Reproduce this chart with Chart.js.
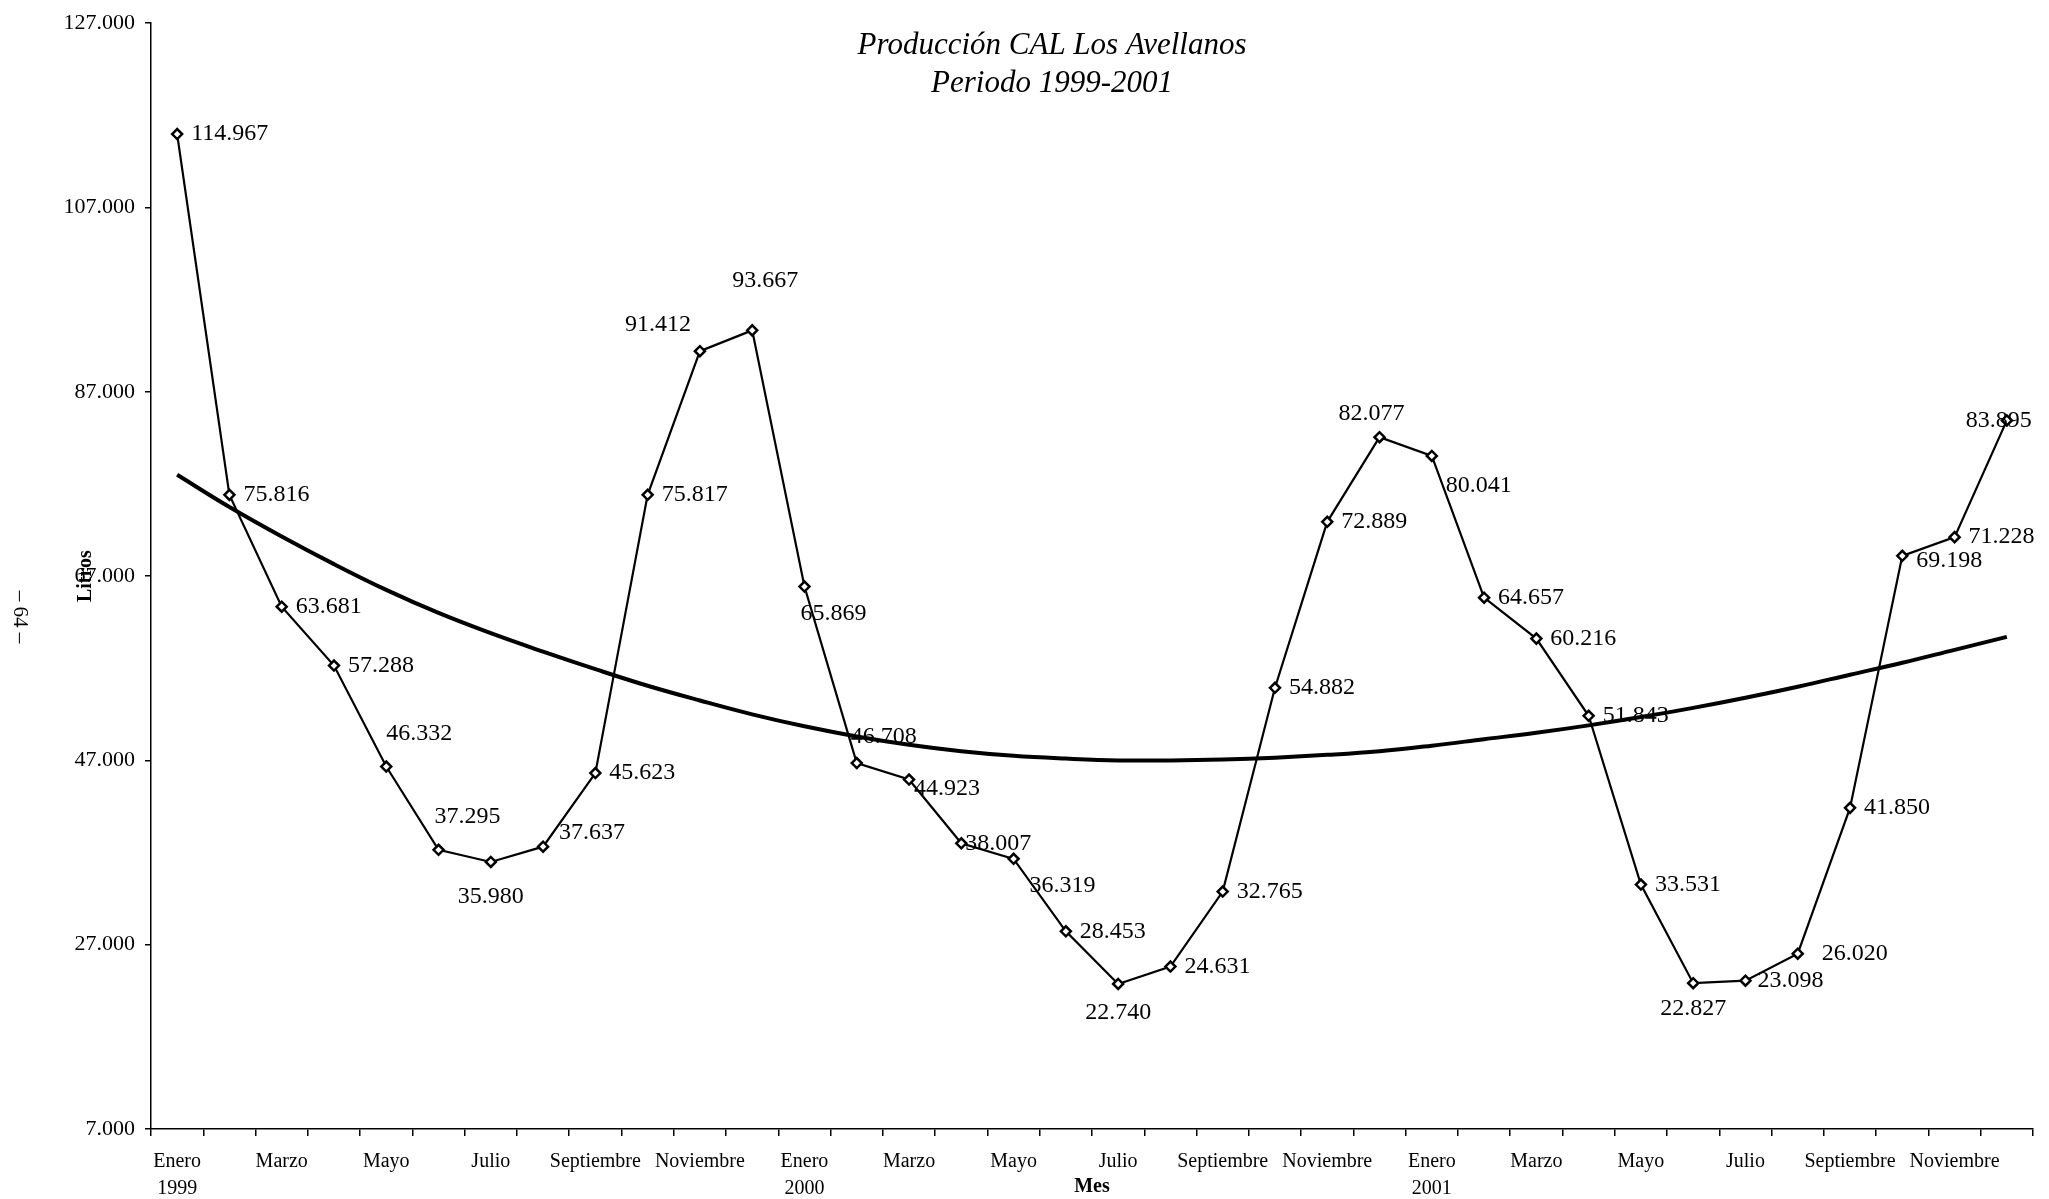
<!DOCTYPE html>
<html>
<head>
<meta charset="utf-8">
<title>Producción CAL Los Avellanos</title>
<script src="https://cdn.jsdelivr.net/npm/chart.js@4.4.1/dist/chart.umd.min.js"></script>
<style>
  html, body { margin: 0; padding: 0; background: #fff; }
  canvas { display: block; }
</style>
</head>
<body>
<canvas id="prodChart" width="2049" height="1199"></canvas>
<script>
// month names and years on the x axis
const months = ['Enero','Febrero','Marzo','Abril','Mayo','Junio','Julio','Agosto','Septiembre','Octubre','Noviembre','Diciembre'];
const years = ['1999','2000','2001'];

// monthly production (litros)
const produccion = [
  114967, 75816, 63681, 57288, 46332, 37295, 35980, 37637, 45623, 75817, 91412, 93667,
  65869, 46708, 44923, 38007, 36319, 28453, 22740, 24631, 32765, 54882, 72889, 82077,
  80041, 64657, 60216, 51843, 33531, 22827, 23098, 26020, 41850, 69198, 71228, 83895
];

// polynomial trend line
const tendencia = [
  78000, 74500, 71300, 68300, 65500, 63000, 60800, 58800, 56900, 55100, 53500, 52000,
  50700, 49600, 48700, 48000, 47500, 47200, 47000, 47000, 47100, 47300, 47600, 48000,
  48600, 49300, 50000, 50800, 51700, 52700, 53800, 55000, 56300, 57600, 59000, 60400
];

const yTicks = [7000, 27000, 47000, 67000, 87000, 107000, 127000];

const titleLines = ['Producción CAL Los Avellanos', 'Periodo 1999-2001'];

// where each value label sits relative to its point: [dx, dy, align]
const labelPlace = [
  [14, 0, 'left'], [14, 0, 'left'], [14, 0, 'left'], [14, 0, 'left'],
  [0, -33, 'left'], [-4, -33, 'left'], [0, 35, 'center'], [16, -14, 'left'],
  [14, 0, 'left'], [14, 0, 'left'], [-9, -26, 'right'], [13, -50, 'center'],
  [-4, 27, 'left'], [-6, -26, 'left'], [5, 9, 'left'], [4, 0, 'left'],
  [16, 27, 'left'], [14, 0, 'left'], [0, 29, 'center'], [14, 0, 'left'],
  [14, 0, 'left'], [14, 0, 'left'], [14, 0, 'left'], [-8, -23, 'center'],
  [14, 30, 'left'], [14, 0, 'left'], [14, 0, 'left'], [14, 0, 'left'],
  [14, 0, 'left'], [0, 26, 'center'], [12, 0, 'left'], [24, 0, 'left'],
  [14, 0, 'left'], [14, 5, 'left'], [14, 0, 'left'], [-8, 0, 'center']
];

const fmt = n => String(Math.round(n)).replace(/\B(?=(\d{3})+(?!\d))/g, '.');

// category labels: one per month, year under each Enero
const categories = [];
years.forEach(y => months.forEach((m, i) => categories.push(i === 0 ? [m, y] : m)));

const serif = 'Liberation Serif';

const extraText = {
  id: 'extraText',
  afterDatasetsDraw(chart) {
    const ctx = chart.ctx;
    const meta = chart.getDatasetMeta(1);
    ctx.save();
    ctx.fillStyle = '#000';
    ctx.textBaseline = 'middle';

    // value labels next to the points
    ctx.font = '24px "' + serif + '"';
    meta.data.forEach((pt, i) => {
      const [dx, dy, align] = labelPlace[i];
      ctx.textAlign = align;
      ctx.fillText(fmt(produccion[i]), pt.x + dx, pt.y + dy);
    });

    // title inside the plot
    ctx.font = 'italic 31px "' + serif + '"';
    ctx.textAlign = 'center';
    ctx.fillText(titleLines[0], 1052, 46);
    ctx.fillText(titleLines[1], 1052, 84);

    // page number in the margin
    ctx.font = '21px "' + serif + '"';
    ctx.translate(20, 617);
    ctx.rotate(Math.PI / 2);
    ctx.fillText('– 64 –', 0, 0);
    ctx.restore();
  }
};

new Chart(document.getElementById('prodChart'), {
  type: 'line',
  data: {
    labels: categories,
    datasets: [{
      label: 'Tendencia',
      data: tendencia,
      borderColor: '#000',
      borderWidth: 4,
      pointRadius: 0,
      tension: 0.4,
      fill: false
    }, {
      label: 'Producción',
      data: produccion,
      borderColor: '#000',
      borderWidth: 2.2,
      tension: 0,
      pointStyle: 'rectRot',
      pointRadius: 5,
      pointBorderWidth: 2.5,
      pointBackgroundColor: '#fff',
      pointBorderColor: '#000',
      fill: false
    }]
  },
  options: {
    responsive: false,
    animation: false,
    devicePixelRatio: 1,
    layout: { padding: { top: 22, right: 16, bottom: 0, left: 0 } },
    plugins: {
      legend: { display: false },
      tooltip: { enabled: false },
      title: { display: false }
    },
    scales: {
      x: {
        offset: true,
        grid: { offset: true, drawOnChartArea: false, drawTicks: true, tickLength: 7, color: '#000', lineWidth: 1.5 },
        border: { display: true, color: '#000', width: 1.5 },
        ticks: {
          autoSkip: false, maxRotation: 0, minRotation: 0, padding: 12, color: '#000',
          font: { family: serif, size: 20, lineHeight: 1.35 },
          callback: (v, i) => i % 2 === 0 ? categories[i] : ''
        },
        title: {
          display: true, text: 'Mes', color: '#000',
          font: { family: serif, size: 20, weight: 'bold' },
          padding: { top: 0, bottom: 0 }
        },
        afterFit: scale => { scale.height = 70; }
      },
      y: {
        min: 7000,
        max: 127000,
        afterBuildTicks: scale => { scale.ticks = yTicks.map(v => ({ value: v })); },
        grid: { drawOnChartArea: false, drawTicks: true, tickLength: 6, color: '#000', lineWidth: 1.5 },
        border: { display: true, color: '#000', width: 1.5 },
        ticks: {
          color: '#000', padding: 10,
          font: { family: serif, size: 22 },
          callback: v => fmt(v)
        },
        title: {
          display: true, text: 'Litros', color: '#000',
          font: { family: serif, size: 20, weight: 'bold' },
          padding: { top: 74, bottom: 0 }
        },
        afterFit: scale => { scale.width = 151; }
      }
    }
  },
  plugins: [extraText]
});
</script>
</body>
</html>
